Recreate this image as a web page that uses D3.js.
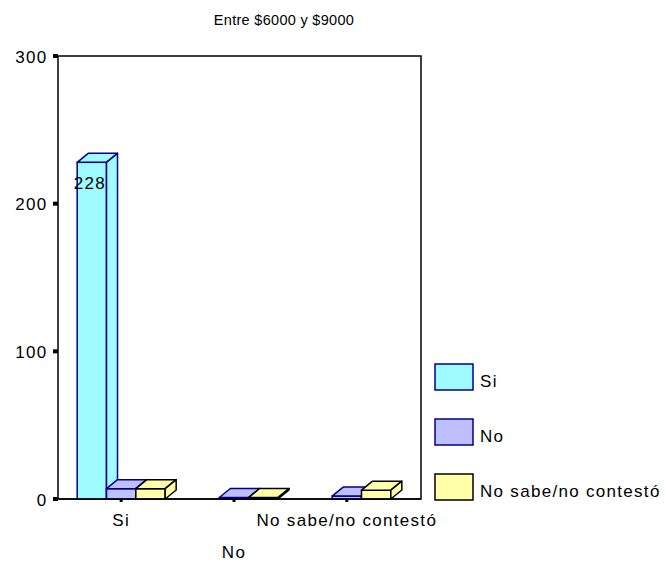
<!DOCTYPE html>
<html><head><meta charset="utf-8">
<script src="https://cdn.jsdelivr.net/npm/d3@7"></script>
<style>body{margin:0;background:#fff}svg{display:block}text{font-family:"Liberation Sans",Arial,sans-serif}</style>
</head><body>
<svg id="c" width="666" height="562"></svg>
<script>
const title = "Entre $6000 y $9000";
const categories = ["Si", "No", "No sabe/no contestó"];
const seriesNames = ["Si", "No", "No sabe/no contestó"];
const valuesSi = [228, 0, 0];
const valuesNo = [7, 1, 2];
const valuesNs = [7, 1, 6];
const yTicks = [0, 100, 200, 300];
const fills = ["#9ffbff", "#bfbfff", "#ffffa8"];
const strokes = ["#00008b", "#00008b", "#000000"];

const series = [valuesSi, valuesNo, valuesNs];
const svg = d3.select("#c");
const L = 58, R = 421, T = 56, B = 499;
const dx = 11, dy = 9;
const FS = 17, LS = 1.3;

const y = d3.scaleLinear().domain([0, 300]).range([B, T]);
const x0 = d3.scalePoint().domain(categories).range([L, R - dx]).padding(0.56);
const x1 = d3.scaleBand().domain(seriesNames).range([-44, 44]);

svg.append("text").attr("x", 284).attr("y", 25).attr("text-anchor", "middle")
  .attr("font-size", 14.5).attr("letter-spacing", 0.3).text(title);

// frame
svg.append("rect").attr("x", L).attr("y", T).attr("width", R - L).attr("height", B - T)
  .attr("fill", "none").attr("stroke", "#000").attr("stroke-width", 1.5);

// y ticks
const yAxis = svg.append("g");
yTicks.forEach(t => {
  yAxis.append("rect").attr("x", L - 5).attr("y", y(t) - 2).attr("width", 5).attr("height", 4).attr("fill", "#000");
  yAxis.append("text").attr("x", L - 10.5).attr("y", y(t) + 6.5).attr("text-anchor", "end")
    .attr("font-size", FS).attr("letter-spacing", LS).text(t);
});

// bars
const g = svg.append("g");
categories.forEach((c, ci) => {
  seriesNames.forEach((s, si) => {
    const v = series[si][ci];
    if (v <= 0) return;
    const xl = x0(c) + x1(s), w = x1.bandwidth();
    const yt = y(v), yb = y(0);
    const st = {fill: fills[si], stroke: strokes[si]};
    g.append("rect").attr("x", xl).attr("y", yt).attr("width", w).attr("height", yb - yt)
      .attr("fill", st.fill).attr("stroke", st.stroke).attr("stroke-width", 1.5);
    g.append("polygon").attr("points", [[xl, yt], [xl + dx, yt - dy], [xl + w + dx, yt - dy], [xl + w, yt]].join(" "))
      .attr("fill", st.fill).attr("stroke", st.stroke).attr("stroke-width", 1.5).attr("stroke-linejoin", "round");
    g.append("polygon").attr("points", [[xl + w, yt], [xl + w + dx, yt - dy], [xl + w + dx, yb - dy], [xl + w, yb]].join(" "))
      .attr("fill", st.fill).attr("stroke", st.stroke).attr("stroke-width", 1.5).attr("stroke-linejoin", "round");
    if (v > 100) {
      g.append("text").attr("x", xl + w / 2 - 2).attr("y", yt + 27).attr("text-anchor", "middle")
        .attr("font-size", FS).attr("letter-spacing", LS).text(v);
    }
  });
});

// redraw bottom axis line over bars
svg.append("line").attr("x1", L).attr("x2", R).attr("y1", B).attr("y2", B).attr("stroke", "#000").attr("stroke-width", 1.5);

// x ticks & labels
categories.forEach((c, i) => {
  svg.append("rect").attr("x", x0(c) - 1.5).attr("y", B).attr("width", 3).attr("height", 3).attr("fill", "#000");
  svg.append("text").attr("x", x0(c)).attr("y", i === 1 ? 558 : 526).attr("text-anchor", "middle")
    .attr("font-size", FS).attr("letter-spacing", LS).text(c);
});

// legend
const lg = svg.append("g");
seriesNames.forEach((s, i) => {
  const yy = 364 + i * 55;
  lg.append("rect").attr("x", 435).attr("y", yy).attr("width", 38).attr("height", 26)
    .attr("fill", fills[i]).attr("stroke", strokes[i]).attr("stroke-width", 1.5);
  lg.append("text").attr("x", 480).attr("y", yy + 23).attr("font-size", FS).attr("letter-spacing", LS).text(s);
});
</script>
</body></html>
